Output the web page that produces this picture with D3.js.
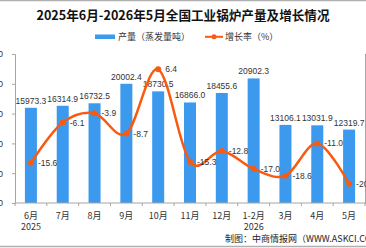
<!DOCTYPE html>
<html>
<head>
<meta charset="utf-8">
<script src="https://cdn.jsdelivr.net/npm/d3@7"></script>
<style>
  html, body { margin: 0; padding: 0; background: #fff; overflow: hidden; }
  svg { display: block; font-family: "Noto Sans CJK SC", "Liberation Sans", sans-serif; }
</style>
</head>
<body>
<svg id="chart"></svg>
<script>
// 2025年6月-2026年5月全国工业锅炉产量及增长情况
const categories = ['6月', '7月', '8月', '9月', '10月', '11月', '12月', '1-2月', '3月', '4月', '5月'];
const yearLabels = ['2025', '', '', '', '', '', '', '2026', '', '', ''];
const output = [15973.3, 16314.9, 16732.5, 20002.4, 18730.5, 16866.0, 18455.6, 20902.3, 13106.1, 13031.9, 12319.7];
const growth = [-15.6, -6.1, -3.9, -8.7, 6.4, -15.3, -12.8, -17.0, -18.6, -11.0, -20.5];
const leftTicks = [0, 5000, 10000, 15000, 20000, 25000];
const rightTicks = [-25, -20, -15, -10, -5, 0, 5, 10];

const W = 366, H = 248;
const PLOT = { left: 15, right: 365, top: 54, bottom: 203 };
const BAR_COLOR = '#3c9aee';
const LINE_COLOR = '#fa5a0f';
const AXIS_COLOR = '#a6a6a6';
const TEXT_COLOR = '#333';

const svg = d3.select('#chart').attr('width', W).attr('height', H);

// --- scales ---
const x = d3.scaleBand().domain(categories).range([PLOT.left, PLOT.right]).paddingInner(0).paddingOuter(0);
const yL = d3.scaleLinear().domain([0, 25000]).range([PLOT.bottom, PLOT.top]);
const yR = d3.scaleLinear().domain([-25, 10]).range([PLOT.bottom, PLOT.top]);
const barW = 12;

// frame lines top / bottom
svg.append('line').attr('x1', 0).attr('x2', W).attr('y1', 0.5).attr('y2', 0.5)
    .attr('stroke', '#b0b0b0').attr('stroke-width', 1.5);
svg.append('line').attr('x1', 0).attr('x2', W).attr('y1', 246.5).attr('y2', 246.5)
    .attr('stroke', '#b0b0b0').attr('stroke-width', 1.5);

// Title
svg.append('text')
    .attr('x', 183).attr('y', 19.5)
    .attr('text-anchor', 'middle')
    .style('font-size', '12.6px').style('font-weight', 'bold').style('fill', '#111')
    .text('2025年6月-2026年5月全国工业锅炉产量及增长情况');

// Legend
const lg = svg.append('g').style('font-size', '9px').style('fill', TEXT_COLOR);
lg.append('rect').attr('x', 95).attr('y', 34.5).attr('width', 20).attr('height', 4.5).attr('fill', BAR_COLOR);
lg.append('text').attr('x', 118).attr('y', 40).text('产量（蒸发量吨）');
lg.append('line').attr('x1', 205).attr('x2', 223).attr('y1', 36.8).attr('y2', 36.8)
    .attr('stroke', LINE_COLOR).attr('stroke-width', 2);
lg.append('circle').attr('cx', 214).attr('cy', 36.8).attr('r', 2.5).attr('fill', LINE_COLOR);
lg.append('text').attr('x', 225).attr('y', 40).text('增长率（%）');

// Left axis
const gL = svg.append('g').attr('transform', `translate(${PLOT.left},0)`)
    .call(d3.axisLeft(yL).tickValues(leftTicks).tickSize(3).tickPadding(9).tickFormat(d => d));
gL.selectAll('path, line').attr('stroke', AXIS_COLOR);
gL.selectAll('text').style('font-size', '9px').style('fill', TEXT_COLOR).style('font-family', 'Liberation Sans');

// Right axis
const gR = svg.append('g').attr('transform', `translate(${PLOT.right},0)`)
    .call(d3.axisRight(yR).tickValues(rightTicks).tickSize(3).tickPadding(4));
gR.selectAll('path, line').attr('stroke', AXIS_COLOR);
gR.selectAll('text').style('font-size', '9px').style('fill', TEXT_COLOR);

// Bars
svg.append('g').selectAll('rect')
    .data(output)
    .join('rect')
    .attr('x', (d, i) => x(categories[i]) + x.bandwidth() / 2 - barW / 2)
    .attr('y', d => yL(d))
    .attr('width', barW)
    .attr('height', d => yL(0) - yL(d))
    .attr('fill', BAR_COLOR);

// X axis
const gX = svg.append('g').attr('transform', `translate(0,${PLOT.bottom})`);
gX.append('line').attr('x1', PLOT.left).attr('x2', PLOT.right).attr('stroke', AXIS_COLOR);
gX.selectAll('line.tick')
    .data(d3.range(categories.length + 1))
    .join('line')
    .attr('class', 'tick')
    .attr('x1', i => i < categories.length ? x(categories[i]) : PLOT.right)
    .attr('x2', i => i < categories.length ? x(categories[i]) : PLOT.right)
    .attr('y1', 0).attr('y2', 3)
    .attr('stroke', AXIS_COLOR);
gX.selectAll('text.cat')
    .data(categories)
    .join('text')
    .attr('class', 'cat')
    .attr('x', d => x(d) + x.bandwidth() / 2)
    .attr('y', 16)
    .attr('text-anchor', 'middle')
    .style('font-size', '9px').style('fill', TEXT_COLOR)
    .text(d => d);
gX.selectAll('text.yr')
    .data(yearLabels)
    .join('text')
    .attr('class', 'yr')
    .attr('x', (d, i) => x(categories[i]) + x.bandwidth() / 2)
    .attr('y', 27)
    .attr('text-anchor', 'middle')
    .style('font-size', '9px').style('fill', TEXT_COLOR)
    .text(d => d);

// Bar value labels
svg.append('g').selectAll('text')
    .data(output)
    .join('text')
    .attr('x', (d, i) => x(categories[i]) + x.bandwidth() / 2)
    .attr('y', d => yL(d) - 4)
    .attr('text-anchor', 'middle')
    .style('font-size', '8.5px').style('fill', TEXT_COLOR).style('font-family', 'Liberation Sans')
    .text(d => d.toFixed(1));

// Growth line
const line = d3.line()
    .x((d, i) => x(categories[i]) + x.bandwidth() / 2)
    .y(d => yR(d))
    .curve(d3.curveCardinal.tension(0));

svg.append('path')
    .datum(growth)
    .attr('d', line)
    .attr('fill', 'none')
    .attr('stroke', LINE_COLOR)
    .attr('stroke-width', 2.5);

svg.append('g').selectAll('circle')
    .data(growth)
    .join('circle')
    .attr('cx', (d, i) => x(categories[i]) + x.bandwidth() / 2)
    .attr('cy', d => yR(d))
    .attr('r', 3)
    .attr('fill', LINE_COLOR);

svg.append('g').selectAll('text')
    .data(growth)
    .join('text')
    .attr('x', (d, i) => x(categories[i]) + x.bandwidth() / 2 + 7)
    .attr('y', d => yR(d) + 3)
    .style('font-size', '8.5px').style('fill', TEXT_COLOR).style('font-family', 'Liberation Sans')
    .text(d => d.toFixed(1));

// Source
svg.append('text')
    .attr('x', 225).attr('y', 242)
    .style('font-size', '9px').style('fill', '#222')
    .text('制图：中商情报网（WWW.ASKCI.COM）');
</script>
</body>
</html>
